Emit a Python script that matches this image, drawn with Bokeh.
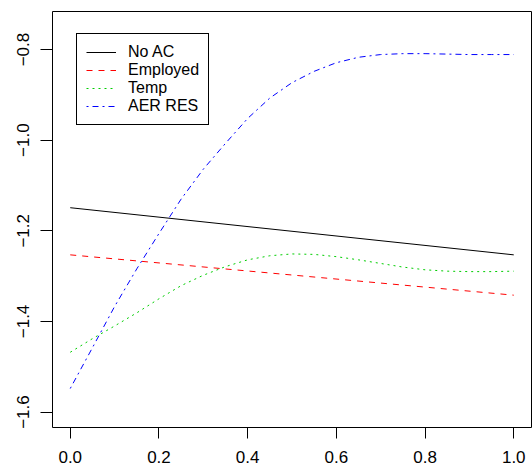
from bokeh.plotting import figure
from bokeh.models import (FixedTicker, CustomJSTickFormatter, Range1d,
                          Legend, LegendItem)
from bokeh.embed import file_html
from bokeh.resources import INLINE

# ---- data ----
x_lin = [0.0, 1.0]
no_ac = [-1.149, -1.253]
employed = [-1.253, -1.342]

x_curve = [0.0, 0.05, 0.10, 0.15, 0.20, 0.25, 0.30, 0.35, 0.40, 0.45, 0.50,
           0.55, 0.60, 0.65, 0.70, 0.75, 0.80, 0.85, 0.90, 0.95, 1.00]
temp = [-1.468, -1.438, -1.410, -1.381, -1.350, -1.321, -1.298, -1.279,
        -1.264, -1.255, -1.251, -1.252, -1.257, -1.264, -1.272, -1.280,
        -1.286, -1.289, -1.290, -1.290, -1.289]
aer_res = [-1.548, -1.458, -1.367, -1.284, -1.206, -1.130, -1.064, -1.007,
           -0.952, -0.907, -0.873, -0.848, -0.829, -0.817, -0.811, -0.809,
           -0.809, -0.810, -0.811, -0.811, -0.811]

x_ticks = [0.0, 0.2, 0.4, 0.6, 0.8, 1.0]
y_ticks = [-1.6, -1.4, -1.2, -1.0, -0.8]
legend_labels = ["No AC", "Employed", "Temp", "AER RES"]
line_colors = ["black", "#FF0000", "#00CD00", "#0000FF"]

FONT = "Liberation Sans"
FSIZE = "16px"

p = figure(width=532, height=470, output_backend="svg", toolbar_location=None,
           x_range=Range1d(-0.04, 1.04), y_range=Range1d(-1.634, -0.716),
           min_border_left=52, min_border_right=1, min_border_top=11,
           min_border_bottom=43)
p.background_fill_color = "white"
p.border_fill_color = "white"
p.outline_line_color = "black"
p.outline_line_width = 1
p.outline_line_alpha = 1
p.xgrid.visible = False
p.ygrid.visible = False

r1 = p.line(x_lin, no_ac, line_color=line_colors[0], line_width=1)
r2 = p.line(x_lin, employed, line_color=line_colors[1], line_width=1,
            line_dash="6 6")
r3 = p.line(x_curve, temp, line_color=line_colors[2], line_width=1,
            line_dash="2 4")
r4 = p.line(x_curve, aer_res, line_color=line_colors[3], line_width=1,
            line_dash="2 4 6 4")

xa = p.xaxis[0]
xa.ticker = FixedTicker(ticks=x_ticks)
xa.formatter = CustomJSTickFormatter(code="return tick.toFixed(1);")
ya = p.yaxis[0]
ya.ticker = FixedTicker(ticks=y_ticks)
ya.formatter = CustomJSTickFormatter(
    code="return tick.toFixed(1).replace('-', '\\u2212');")
ya.major_label_orientation = "vertical"

for ax, out, so in ((xa, 11, 12), (ya, 12, 11)):
    ax.axis_line_color = None
    ax.major_tick_out = out
    ax.major_tick_in = 0
    ax.major_tick_line_color = "black"
    ax.minor_tick_line_color = None
    ax.major_label_text_font = FONT
    ax.major_label_text_font_size = "17px"
    ax.major_label_text_color = "black"
    ax.major_label_standoff = so

legend = Legend(items=[LegendItem(label=l, renderers=[r])
                       for l, r in zip(legend_labels, [r1, r2, r3, r4])],
                location=(24, 302))
legend.border_line_color = "black"
legend.border_line_width = 1
legend.border_line_alpha = 1
legend.background_fill_color = "white"
legend.background_fill_alpha = 1
legend.label_text_font = FONT
legend.label_text_font_size = FSIZE
legend.label_text_color = "black"
legend.padding = 9
legend.spacing = 0
legend.margin = 0
legend.label_height = 18
legend.glyph_height = 18
legend.glyph_width = 30
legend.label_standoff = 12
p.add_layout(legend)

open("out.html", "w").write(file_html(p, INLINE))
